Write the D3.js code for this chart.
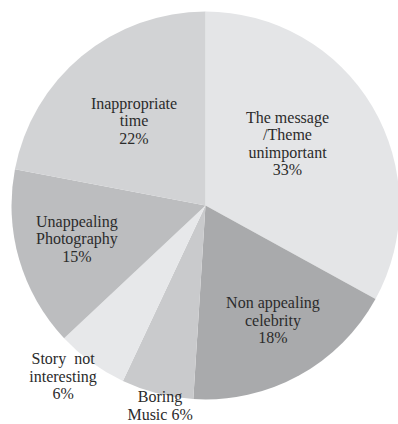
<!DOCTYPE html>
<html>
<head>
<meta charset="utf-8">
<script src="https://cdn.jsdelivr.net/npm/d3@7"></script>
<style>
  html, body { margin: 0; padding: 0; background: #ffffff; }
  svg { display: block; }
  text { font-family: "Liberation Serif", "Times New Roman", serif; fill: #2b2b2b; }
</style>
</head>
<body>
<svg id="chart" width="398" height="424"></svg>
<script>
// Reasons for disliking an advertisement, share of respondents (%)
const categories = [
  "The message /Theme unimportant",
  "Non appealing celebrity",
  "Boring Music",
  "Story not interesting",
  "Unappealing Photography",
  "Inappropriate time"
];
const values = [33, 18, 6, 6, 15, 22];
const labelLines = [
  ["The message", "/Theme", "unimportant", "33%"],
  ["Non appealing", "celebrity", "18%"],
  ["Boring", "Music 6%"],
  ["Story  not", "interesting", "6%"],
  ["Unappealing", "Photography", "15%"],
  ["Inappropriate", "time", "22%"]
];
const sliceColors = ["#e4e5e7", "#a9aaac", "#c9cacc", "#e7e8ea", "#bcbdbf", "#d2d3d5"];

// Label placement: distance from centre as a fraction of the radius, and a small angular turn (degrees)
const labelRadius = [0.53, 0.685, 1.057, 1.147, 0.685, 0.572];
const labelTurn = [-6.5, -1.7, -1.6, 3.8, 1.6, -0.5];

const svg = d3.select("#chart");
const cx = 205.5, cy = 205.5, R = 194;
const lineH = 17.5;

const pie = d3.pie().sort(null).value(d => d)(values);
const arc = d3.arc().innerRadius(0).outerRadius(R);

const g = svg.append("g").attr("transform", `translate(${cx},${cy})`);

g.selectAll("path.slice")
  .data(pie)
  .join("path")
  .attr("class", "slice")
  .attr("d", arc)
  .attr("fill", (d, i) => sliceColors[i])
  .attr("stroke", "none");

const labels = g.selectAll("text.label")
  .data(pie)
  .join("text")
  .attr("class", "label")
  .attr("text-anchor", "middle")
  .attr("font-size", 16)
  .style("white-space", "pre")
  .attr("transform", (d, i) => {
    const a = (d.startAngle + d.endAngle) / 2 + labelTurn[i] * Math.PI / 180;
    const r = labelRadius[i] * R;
    return `translate(${Math.sin(a) * r},${-Math.cos(a) * r})`;
  });

labels.each(function(d, i) {
  const lines = labelLines[i];
  const top = -(lines.length - 1) * lineH / 2 + 5.5;
  d3.select(this).selectAll("tspan")
    .data(lines)
    .join("tspan")
    .attr("x", 0)
    .attr("y", (t, j) => top + j * lineH)
    .text(t => t);
});
</script>
</body>
</html>
